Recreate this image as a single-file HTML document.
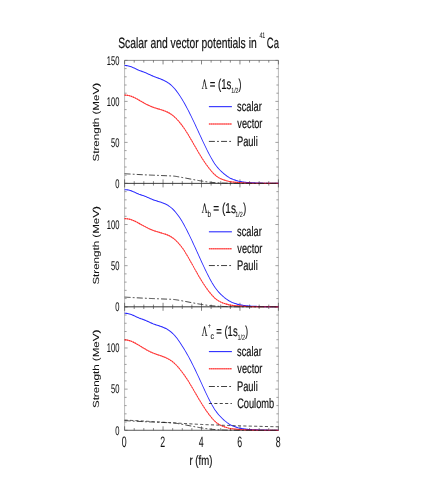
<!DOCTYPE html>
<html><head><meta charset="utf-8"><title>Scalar and vector potentials in 41Ca</title>
<style>html,body{margin:0;padding:0;background:#fff;}svg{display:block;}text{text-rendering:geometricPrecision;font-family:"Liberation Sans",sans-serif;fill:#111;stroke:#111;stroke-width:0.2;}.t{opacity:0.999;}.tk{stroke-width:0.06;}.sy{font-family:"Liberation Serif",serif;}</style>
</head><body>
<svg width="436" height="491" viewBox="0 0 436 491">
<rect x="0" y="0" width="436" height="491" fill="#ffffff"/>
<g stroke="#333" fill="none">
<path d="M124.60,60.40 V430.30 M278.40,60.40 V430.30" stroke-width="0.6" stroke="#8a8a8a"/>
<path d="M124.60,60.40 H278.40 M124.60,430.30 H278.40" stroke-width="0.6" stroke="#444"/>
<path d="M124.60,183.40 H278.40 M124.60,306.80 H278.40" stroke-width="0.75" stroke="#2a2a2a"/>
<path d="M124.60,60.40 v4.00 M134.21,60.40 v2.20 M143.82,60.40 v2.20 M153.44,60.40 v2.20 M163.05,60.40 v4.00 M172.66,60.40 v2.20 M182.27,60.40 v2.20 M191.89,60.40 v2.20 M201.50,60.40 v4.00 M211.11,60.40 v2.20 M220.72,60.40 v2.20 M230.34,60.40 v2.20 M239.95,60.40 v4.00 M249.56,60.40 v2.20 M259.17,60.40 v2.20 M268.79,60.40 v2.20 M278.40,60.40 v4.00 M124.60,183.40 v4.00 M124.60,183.40 v-4.00 M134.21,183.40 v2.20 M134.21,183.40 v-2.20 M143.82,183.40 v2.20 M143.82,183.40 v-2.20 M153.44,183.40 v2.20 M153.44,183.40 v-2.20 M163.05,183.40 v4.00 M163.05,183.40 v-4.00 M172.66,183.40 v2.20 M172.66,183.40 v-2.20 M182.27,183.40 v2.20 M182.27,183.40 v-2.20 M191.89,183.40 v2.20 M191.89,183.40 v-2.20 M201.50,183.40 v4.00 M201.50,183.40 v-4.00 M211.11,183.40 v2.20 M211.11,183.40 v-2.20 M220.72,183.40 v2.20 M220.72,183.40 v-2.20 M230.34,183.40 v2.20 M230.34,183.40 v-2.20 M239.95,183.40 v4.00 M239.95,183.40 v-4.00 M249.56,183.40 v2.20 M249.56,183.40 v-2.20 M259.17,183.40 v2.20 M259.17,183.40 v-2.20 M268.79,183.40 v2.20 M268.79,183.40 v-2.20 M278.40,183.40 v4.00 M278.40,183.40 v-4.00 M124.60,306.80 v4.00 M124.60,306.80 v-4.00 M134.21,306.80 v2.20 M134.21,306.80 v-2.20 M143.82,306.80 v2.20 M143.82,306.80 v-2.20 M153.44,306.80 v2.20 M153.44,306.80 v-2.20 M163.05,306.80 v4.00 M163.05,306.80 v-4.00 M172.66,306.80 v2.20 M172.66,306.80 v-2.20 M182.27,306.80 v2.20 M182.27,306.80 v-2.20 M191.89,306.80 v2.20 M191.89,306.80 v-2.20 M201.50,306.80 v4.00 M201.50,306.80 v-4.00 M211.11,306.80 v2.20 M211.11,306.80 v-2.20 M220.72,306.80 v2.20 M220.72,306.80 v-2.20 M230.34,306.80 v2.20 M230.34,306.80 v-2.20 M239.95,306.80 v4.00 M239.95,306.80 v-4.00 M249.56,306.80 v2.20 M249.56,306.80 v-2.20 M259.17,306.80 v2.20 M259.17,306.80 v-2.20 M268.79,306.80 v2.20 M268.79,306.80 v-2.20 M278.40,306.80 v4.00 M278.40,306.80 v-4.00 M124.60,430.30 v-4.00 M134.21,430.30 v-2.20 M143.82,430.30 v-2.20 M153.44,430.30 v-2.20 M163.05,430.30 v-4.00 M172.66,430.30 v-2.20 M182.27,430.30 v-2.20 M191.89,430.30 v-2.20 M201.50,430.30 v-4.00 M211.11,430.30 v-2.20 M220.72,430.30 v-2.20 M230.34,430.30 v-2.20 M239.95,430.30 v-4.00 M249.56,430.30 v-2.20 M259.17,430.30 v-2.20 M268.79,430.30 v-2.20 M278.40,430.30 v-4.00 " stroke-width="0.62" stroke="#3a3a3a"/>
<path d="M124.60,183.40 h3.00 M278.40,183.40 h-3.00 M124.60,175.20 h2.00 M278.40,175.20 h-2.00 M124.60,167.00 h2.00 M278.40,167.00 h-2.00 M124.60,158.80 h2.00 M278.40,158.80 h-2.00 M124.60,150.60 h2.00 M278.40,150.60 h-2.00 M124.60,142.40 h3.00 M278.40,142.40 h-3.00 M124.60,134.20 h2.00 M278.40,134.20 h-2.00 M124.60,126.00 h2.00 M278.40,126.00 h-2.00 M124.60,117.80 h2.00 M278.40,117.80 h-2.00 M124.60,109.60 h2.00 M278.40,109.60 h-2.00 M124.60,101.40 h3.00 M278.40,101.40 h-3.00 M124.60,93.20 h2.00 M278.40,93.20 h-2.00 M124.60,85.00 h2.00 M278.40,85.00 h-2.00 M124.60,76.80 h2.00 M278.40,76.80 h-2.00 M124.60,68.60 h2.00 M278.40,68.60 h-2.00 M124.60,60.40 h3.00 M278.40,60.40 h-3.00 M124.60,306.80 h3.00 M278.40,306.80 h-3.00 M124.60,298.57 h2.00 M278.40,298.57 h-2.00 M124.60,290.35 h2.00 M278.40,290.35 h-2.00 M124.60,282.12 h2.00 M278.40,282.12 h-2.00 M124.60,273.89 h2.00 M278.40,273.89 h-2.00 M124.60,265.67 h3.00 M278.40,265.67 h-3.00 M124.60,257.44 h2.00 M278.40,257.44 h-2.00 M124.60,249.21 h2.00 M278.40,249.21 h-2.00 M124.60,240.99 h2.00 M278.40,240.99 h-2.00 M124.60,232.76 h2.00 M278.40,232.76 h-2.00 M124.60,224.53 h3.00 M278.40,224.53 h-3.00 M124.60,216.31 h2.00 M278.40,216.31 h-2.00 M124.60,208.08 h2.00 M278.40,208.08 h-2.00 M124.60,199.85 h2.00 M278.40,199.85 h-2.00 M124.60,191.63 h2.00 M278.40,191.63 h-2.00 M124.60,183.40 h3.00 M278.40,183.40 h-3.00 M124.60,430.30 h3.00 M278.40,430.30 h-3.00 M124.60,422.07 h2.00 M278.40,422.07 h-2.00 M124.60,413.83 h2.00 M278.40,413.83 h-2.00 M124.60,405.60 h2.00 M278.40,405.60 h-2.00 M124.60,397.37 h2.00 M278.40,397.37 h-2.00 M124.60,389.13 h3.00 M278.40,389.13 h-3.00 M124.60,380.90 h2.00 M278.40,380.90 h-2.00 M124.60,372.67 h2.00 M278.40,372.67 h-2.00 M124.60,364.43 h2.00 M278.40,364.43 h-2.00 M124.60,356.20 h2.00 M278.40,356.20 h-2.00 M124.60,347.97 h3.00 M278.40,347.97 h-3.00 M124.60,339.73 h2.00 M278.40,339.73 h-2.00 M124.60,331.50 h2.00 M278.40,331.50 h-2.00 M124.60,323.27 h2.00 M278.40,323.27 h-2.00 M124.60,315.03 h2.00 M278.40,315.03 h-2.00 M124.60,306.80 h3.00 M278.40,306.80 h-3.00 " stroke-width="0.62" stroke="#666"/>
</g>
<g fill="none" stroke-linejoin="round" transform="translate(124.60,0) scale(0.720,1)">
<path d="M0.00,65.56 L1.34,65.57 L2.67,65.64 L4.01,65.77 L5.34,65.95 L6.68,66.19 L8.01,66.49 L9.35,66.84 L10.68,67.23 L12.02,67.65 L13.35,68.10 L14.69,68.56 L16.02,69.01 L17.36,69.47 L18.69,69.90 L20.03,70.31 L21.36,70.68 L22.70,71.03 L24.03,71.37 L25.37,71.71 L26.70,72.07 L28.04,72.45 L29.37,72.85 L30.71,73.27 L32.04,73.70 L33.38,74.14 L34.71,74.59 L36.05,75.03 L37.38,75.47 L38.72,75.89 L40.05,76.30 L41.39,76.68 L42.72,77.05 L44.06,77.41 L45.39,77.77 L46.73,78.12 L48.06,78.47 L49.40,78.84 L50.73,79.21 L52.07,79.61 L53.40,80.03 L54.74,80.47 L56.07,80.95 L57.41,81.47 L58.74,82.03 L60.08,82.64 L61.41,83.30 L62.75,84.02 L64.08,84.80 L65.42,85.65 L66.75,86.57 L68.09,87.57 L69.42,88.64 L70.76,89.78 L72.09,91.00 L73.43,92.28 L74.76,93.62 L76.10,95.03 L77.43,96.50 L78.77,98.02 L80.10,99.60 L81.44,101.22 L82.77,102.90 L84.11,104.62 L85.44,106.39 L86.78,108.20 L88.11,110.04 L89.45,111.93 L90.78,113.84 L92.12,115.78 L93.45,117.76 L94.79,119.75 L96.13,121.78 L97.46,123.82 L98.80,125.87 L100.13,127.95 L101.47,130.03 L102.80,132.12 L104.14,134.22 L105.47,136.31 L106.81,138.39 L108.14,140.46 L109.48,142.52 L110.81,144.55 L112.15,146.56 L113.48,148.53 L114.82,150.47 L116.15,152.37 L117.49,154.22 L118.82,156.03 L120.16,157.78 L121.49,159.46 L122.83,161.07 L124.16,162.60 L125.50,164.03 L126.83,165.37 L128.17,166.61 L129.50,167.77 L130.84,168.86 L132.17,169.89 L133.51,170.85 L134.84,171.76 L136.18,172.64 L137.51,173.48 L138.85,174.29 L140.18,175.04 L141.52,175.74 L142.85,176.42 L144.19,177.05 L145.52,177.63 L146.86,178.15 L148.19,178.62 L149.53,179.04 L150.86,179.43 L152.20,179.79 L153.53,180.12 L154.87,180.43 L156.20,180.72 L157.54,181.00 L158.87,181.23 L160.21,181.43 L161.54,181.60 L162.88,181.76 L164.21,181.92 L165.55,182.06 L166.88,182.19 L168.22,182.31 L169.55,182.42 L170.89,182.51 L172.22,182.59 L173.56,182.66 L174.89,182.72 L176.23,182.78 L177.56,182.83 L178.90,182.87 L180.23,182.91 L181.57,182.95 L182.90,182.99 L184.24,183.02 L185.57,183.05 L186.91,183.07 L188.24,183.10 L189.58,183.12 L190.91,183.15 L192.25,183.17 L193.59,183.19 L194.92,183.22 L196.26,183.24 L197.59,183.26 L198.93,183.28 L200.26,183.30 L201.60,183.32 L202.93,183.33 L204.27,183.35 L205.60,183.36 L206.94,183.37 L208.27,183.38 L209.61,183.39 L210.94,183.40 L212.28,183.40 L213.61,183.40" stroke="#2828ff" stroke-width="1.08"/>
<path d="M0.00,95.11 L1.34,95.13 L2.67,95.20 L4.01,95.32 L5.34,95.50 L6.68,95.73 L8.01,96.01 L9.35,96.33 L10.68,96.70 L12.02,97.11 L13.35,97.56 L14.69,98.03 L16.02,98.53 L17.36,99.05 L18.69,99.59 L20.03,100.13 L21.36,100.69 L22.70,101.25 L24.03,101.81 L25.37,102.36 L26.70,102.90 L28.04,103.43 L29.37,103.94 L30.71,104.43 L32.04,104.91 L33.38,105.37 L34.71,105.81 L36.05,106.23 L37.38,106.63 L38.72,107.01 L40.05,107.37 L41.39,107.70 L42.72,108.01 L44.06,108.31 L45.39,108.60 L46.73,108.88 L48.06,109.16 L49.40,109.45 L50.73,109.74 L52.07,110.04 L53.40,110.36 L54.74,110.70 L56.07,111.06 L57.41,111.45 L58.74,111.88 L60.08,112.34 L61.41,112.84 L62.75,113.39 L64.08,113.99 L65.42,114.65 L66.75,115.36 L68.09,116.14 L69.42,116.98 L70.76,117.88 L72.09,118.84 L73.43,119.86 L74.76,120.93 L76.10,122.06 L77.43,123.24 L78.77,124.47 L80.10,125.76 L81.44,127.09 L82.77,128.47 L84.11,129.90 L85.44,131.37 L86.78,132.88 L88.11,134.43 L89.45,136.02 L90.78,137.64 L92.12,139.29 L93.45,140.95 L94.79,142.62 L96.13,144.30 L97.46,145.98 L98.80,147.66 L100.13,149.32 L101.47,150.97 L102.80,152.59 L104.14,154.20 L105.47,155.77 L106.81,157.33 L108.14,158.85 L109.48,160.34 L110.81,161.79 L112.15,163.20 L113.48,164.58 L114.82,165.91 L116.15,167.20 L117.49,168.44 L118.82,169.64 L120.16,170.79 L121.49,171.89 L122.83,172.94 L124.16,173.92 L125.50,174.83 L126.83,175.66 L128.17,176.40 L129.50,177.07 L130.84,177.67 L132.17,178.20 L133.51,178.67 L134.84,179.09 L136.18,179.47 L137.51,179.82 L138.85,180.14 L140.18,180.45 L141.52,180.74 L142.85,181.02 L144.19,181.27 L145.52,181.50 L146.86,181.68 L148.19,181.82 L149.53,181.95 L150.86,182.06 L152.20,182.16 L153.53,182.25 L154.87,182.35 L156.20,182.43 L157.54,182.52 L158.87,182.59 L160.21,182.66 L161.54,182.72 L162.88,182.79 L164.21,182.85 L165.55,182.90 L166.88,182.96 L168.22,183.01 L169.55,183.05 L170.89,183.09 L172.22,183.13 L173.56,183.15 L174.89,183.18 L176.23,183.20 L177.56,183.22 L178.90,183.24 L180.23,183.26 L181.57,183.27 L182.90,183.29 L184.24,183.30 L185.57,183.31 L186.91,183.32 L188.24,183.32 L189.58,183.33 L190.91,183.34 L192.25,183.34 L193.59,183.35 L194.92,183.36 L196.26,183.36 L197.59,183.37 L198.93,183.37 L200.26,183.38 L201.60,183.38 L202.93,183.38 L204.27,183.39 L205.60,183.39 L206.94,183.39 L208.27,183.40 L209.61,183.40 L210.94,183.40 L212.28,183.40 L213.61,183.40" stroke="#ff0000" stroke-width="1.15" stroke-opacity="0.6"/>
<path d="M0.00,95.11 L1.34,95.13 L2.67,95.20 L4.01,95.32 L5.34,95.50 L6.68,95.73 L8.01,96.01 L9.35,96.33 L10.68,96.70 L12.02,97.11 L13.35,97.56 L14.69,98.03 L16.02,98.53 L17.36,99.05 L18.69,99.59 L20.03,100.13 L21.36,100.69 L22.70,101.25 L24.03,101.81 L25.37,102.36 L26.70,102.90 L28.04,103.43 L29.37,103.94 L30.71,104.43 L32.04,104.91 L33.38,105.37 L34.71,105.81 L36.05,106.23 L37.38,106.63 L38.72,107.01 L40.05,107.37 L41.39,107.70 L42.72,108.01 L44.06,108.31 L45.39,108.60 L46.73,108.88 L48.06,109.16 L49.40,109.45 L50.73,109.74 L52.07,110.04 L53.40,110.36 L54.74,110.70 L56.07,111.06 L57.41,111.45 L58.74,111.88 L60.08,112.34 L61.41,112.84 L62.75,113.39 L64.08,113.99 L65.42,114.65 L66.75,115.36 L68.09,116.14 L69.42,116.98 L70.76,117.88 L72.09,118.84 L73.43,119.86 L74.76,120.93 L76.10,122.06 L77.43,123.24 L78.77,124.47 L80.10,125.76 L81.44,127.09 L82.77,128.47 L84.11,129.90 L85.44,131.37 L86.78,132.88 L88.11,134.43 L89.45,136.02 L90.78,137.64 L92.12,139.29 L93.45,140.95 L94.79,142.62 L96.13,144.30 L97.46,145.98 L98.80,147.66 L100.13,149.32 L101.47,150.97 L102.80,152.59 L104.14,154.20 L105.47,155.77 L106.81,157.33 L108.14,158.85 L109.48,160.34 L110.81,161.79 L112.15,163.20 L113.48,164.58 L114.82,165.91 L116.15,167.20 L117.49,168.44 L118.82,169.64 L120.16,170.79 L121.49,171.89 L122.83,172.94 L124.16,173.92 L125.50,174.83 L126.83,175.66 L128.17,176.40 L129.50,177.07 L130.84,177.67 L132.17,178.20 L133.51,178.67 L134.84,179.09 L136.18,179.47 L137.51,179.82 L138.85,180.14 L140.18,180.45 L141.52,180.74 L142.85,181.02 L144.19,181.27 L145.52,181.50 L146.86,181.68 L148.19,181.82 L149.53,181.95 L150.86,182.06 L152.20,182.16 L153.53,182.25 L154.87,182.35 L156.20,182.43 L157.54,182.52 L158.87,182.59 L160.21,182.66 L161.54,182.72 L162.88,182.79 L164.21,182.85 L165.55,182.90 L166.88,182.96 L168.22,183.01 L169.55,183.05 L170.89,183.09 L172.22,183.13 L173.56,183.15 L174.89,183.18 L176.23,183.20 L177.56,183.22 L178.90,183.24 L180.23,183.26 L181.57,183.27 L182.90,183.29 L184.24,183.30 L185.57,183.31 L186.91,183.32 L188.24,183.32 L189.58,183.33 L190.91,183.34 L192.25,183.34 L193.59,183.35 L194.92,183.36 L196.26,183.36 L197.59,183.37 L198.93,183.37 L200.26,183.38 L201.60,183.38 L202.93,183.38 L204.27,183.39 L205.60,183.39 L206.94,183.39 L208.27,183.40 L209.61,183.40 L210.94,183.40 L212.28,183.40 L213.61,183.40" stroke="#ff0000" stroke-width="1.1" stroke-opacity="0.6" stroke-dasharray="1.8 1.1"/>
<path d="M0.00,173.72 L1.34,173.78 L2.67,173.84 L4.01,173.90 L5.34,173.96 L6.68,174.01 L8.01,174.07 L9.35,174.13 L10.68,174.18 L12.02,174.24 L13.35,174.29 L14.69,174.34 L16.02,174.40 L17.36,174.45 L18.69,174.50 L20.03,174.55 L21.36,174.60 L22.70,174.65 L24.03,174.70 L25.37,174.74 L26.70,174.79 L28.04,174.84 L29.37,174.88 L30.71,174.92 L32.04,174.97 L33.38,175.01 L34.71,175.05 L36.05,175.09 L37.38,175.13 L38.72,175.17 L40.05,175.21 L41.39,175.25 L42.72,175.29 L44.06,175.33 L45.39,175.37 L46.73,175.41 L48.06,175.45 L49.40,175.49 L50.73,175.53 L52.07,175.57 L53.40,175.61 L54.74,175.65 L56.07,175.68 L57.41,175.72 L58.74,175.75 L60.08,175.79 L61.41,175.82 L62.75,175.86 L64.08,175.91 L65.42,175.96 L66.75,176.02 L68.09,176.10 L69.42,176.20 L70.76,176.33 L72.09,176.48 L73.43,176.64 L74.76,176.80 L76.10,176.98 L77.43,177.16 L78.77,177.33 L80.10,177.50 L81.44,177.66 L82.77,177.84 L84.11,178.01 L85.44,178.20 L86.78,178.38 L88.11,178.57 L89.45,178.75 L90.78,178.94 L92.12,179.12 L93.45,179.30 L94.79,179.48 L96.13,179.66 L97.46,179.84 L98.80,180.02 L100.13,180.20 L101.47,180.37 L102.80,180.54 L104.14,180.71 L105.47,180.87 L106.81,181.02 L108.14,181.17 L109.48,181.32 L110.81,181.47 L112.15,181.61 L113.48,181.75 L114.82,181.89 L116.15,182.02 L117.49,182.13 L118.82,182.24 L120.16,182.33 L121.49,182.42 L122.83,182.50 L124.16,182.58 L125.50,182.66 L126.83,182.73 L128.17,182.79 L129.50,182.85 L130.84,182.90 L132.17,182.95 L133.51,182.99 L134.84,183.02 L136.18,183.06 L137.51,183.08 L138.85,183.11 L140.18,183.13 L141.52,183.16 L142.85,183.18 L144.19,183.20 L145.52,183.22 L146.86,183.24 L148.19,183.26 L149.53,183.28 L150.86,183.30 L152.20,183.32 L153.53,183.34 L154.87,183.36 L156.20,183.38 L157.54,183.39 L158.87,183.40 L160.21,183.40 L161.54,183.40 L162.88,183.40 L164.21,183.40 L165.55,183.40 L166.88,183.40 L168.22,183.40 L169.55,183.40 L170.89,183.40 L172.22,183.40 L173.56,183.40 L174.89,183.40 L176.23,183.40 L177.56,183.40 L178.90,183.40 L180.23,183.40 L181.57,183.40 L182.90,183.40 L184.24,183.40 L185.57,183.40 L186.91,183.40 L188.24,183.40 L189.58,183.40 L190.91,183.40 L192.25,183.40 L193.59,183.40 L194.92,183.40 L196.26,183.40 L197.59,183.40 L198.93,183.40 L200.26,183.40 L201.60,183.40 L202.93,183.40 L204.27,183.40 L205.60,183.40 L206.94,183.40 L208.27,183.40 L209.61,183.40 L210.94,183.40 L212.28,183.40 L213.61,183.40" stroke="#222" stroke-width="1.0" stroke-dasharray="8.3 3.05 2.5 3.05"/>
</g>
<g fill="none" stroke-linejoin="round" transform="translate(124.60,0) scale(0.720,1)">
<path d="M0.00,189.76 L1.34,189.75 L2.67,189.80 L4.01,189.91 L5.34,190.07 L6.68,190.29 L8.01,190.57 L9.35,190.89 L10.68,191.26 L12.02,191.67 L13.35,192.09 L14.69,192.52 L16.02,192.96 L17.36,193.39 L18.69,193.80 L20.03,194.19 L21.36,194.54 L22.70,194.87 L24.03,195.19 L25.37,195.52 L26.70,195.85 L28.04,196.21 L29.37,196.59 L30.71,196.99 L32.04,197.41 L33.38,197.83 L34.71,198.25 L36.05,198.68 L37.38,199.09 L38.72,199.50 L40.05,199.88 L41.39,200.21 L42.72,200.52 L44.06,200.82 L45.39,201.11 L46.73,201.41 L48.06,201.70 L49.40,202.01 L50.73,202.32 L52.07,202.66 L53.40,203.02 L54.74,203.41 L56.07,203.83 L57.41,204.30 L58.74,204.80 L60.08,205.36 L61.41,205.96 L62.75,206.63 L64.08,207.36 L65.42,208.16 L66.75,209.04 L68.09,209.99 L69.42,211.02 L70.76,212.12 L72.09,213.30 L73.43,214.54 L74.76,215.85 L76.10,217.23 L77.43,218.67 L78.77,220.16 L80.10,221.71 L81.44,223.42 L82.77,225.17 L84.11,226.96 L85.44,228.80 L86.78,230.67 L88.11,232.59 L89.45,234.53 L90.78,236.51 L92.12,238.52 L93.45,240.55 L94.79,242.60 L96.13,244.68 L97.46,246.77 L98.80,248.88 L100.13,251.00 L101.47,253.13 L102.80,255.26 L104.14,257.40 L105.47,259.53 L106.81,261.65 L108.14,263.72 L109.48,265.79 L110.81,267.83 L112.15,269.84 L113.48,271.82 L114.82,273.77 L116.15,275.67 L117.49,277.53 L118.82,279.34 L120.16,281.10 L121.49,282.79 L122.83,284.40 L124.16,285.93 L125.50,287.37 L126.83,288.71 L128.17,289.96 L129.50,291.12 L130.84,292.22 L132.17,293.24 L133.51,294.21 L134.84,295.12 L136.18,296.01 L137.51,296.85 L138.85,297.66 L140.18,298.41 L141.52,299.12 L142.85,299.80 L144.19,300.43 L145.52,301.02 L146.86,301.53 L148.19,302.00 L149.53,302.43 L150.86,302.82 L152.20,303.18 L153.53,303.51 L154.87,303.82 L156.20,304.12 L157.54,304.39 L158.87,304.63 L160.21,304.83 L161.54,305.00 L162.88,305.16 L164.21,305.31 L165.55,305.45 L166.88,305.58 L168.22,305.70 L169.55,305.81 L170.89,305.91 L172.22,305.99 L173.56,306.06 L174.89,306.12 L176.23,306.17 L177.56,306.22 L178.90,306.27 L180.23,306.31 L181.57,306.35 L182.90,306.38 L184.24,306.42 L185.57,306.44 L186.91,306.47 L188.24,306.50 L189.58,306.52 L190.91,306.54 L192.25,306.57 L193.59,306.59 L194.92,306.61 L196.26,306.64 L197.59,306.66 L198.93,306.68 L200.26,306.70 L201.60,306.72 L202.93,306.73 L204.27,306.75 L205.60,306.76 L206.94,306.77 L208.27,306.78 L209.61,306.79 L210.94,306.80 L212.28,306.80 L213.61,306.80" stroke="#2828ff" stroke-width="1.08"/>
<path d="M0.00,218.67 L1.34,218.66 L2.67,218.71 L4.01,218.81 L5.34,218.97 L6.68,219.17 L8.01,219.43 L9.35,219.73 L10.68,220.08 L12.02,220.47 L13.35,220.89 L14.69,221.35 L16.02,221.82 L17.36,222.32 L18.69,222.84 L20.03,223.37 L21.36,223.90 L22.70,224.44 L24.03,224.98 L25.37,225.52 L26.70,226.04 L28.04,226.57 L29.37,227.08 L30.71,227.58 L32.04,228.06 L33.38,228.52 L34.71,228.96 L36.05,229.38 L37.38,229.78 L38.72,230.16 L40.05,230.52 L41.39,230.85 L42.72,231.17 L44.06,231.47 L45.39,231.76 L46.73,232.04 L48.06,232.32 L49.40,232.61 L50.73,232.90 L52.07,233.20 L53.40,233.52 L54.74,233.79 L56.07,234.08 L57.41,234.40 L58.74,234.76 L60.08,235.15 L61.41,235.59 L62.75,236.07 L64.08,236.61 L65.42,237.20 L66.75,237.86 L68.09,238.58 L69.42,239.36 L70.76,240.21 L72.09,241.12 L73.43,242.09 L74.76,243.12 L76.10,244.21 L77.43,245.36 L78.77,246.56 L80.10,247.81 L81.44,249.23 L82.77,250.70 L84.11,252.21 L85.44,253.76 L86.78,255.35 L88.11,256.99 L89.45,258.65 L90.78,260.34 L92.12,262.06 L93.45,263.78 L94.79,265.52 L96.13,267.26 L97.46,269.00 L98.80,270.73 L100.13,272.44 L101.47,274.13 L102.80,275.80 L104.14,277.44 L105.47,279.06 L106.81,280.64 L108.14,282.17 L109.48,283.66 L110.81,285.12 L112.15,286.54 L113.48,287.92 L114.82,289.26 L116.15,290.55 L117.49,291.79 L118.82,292.99 L120.16,294.15 L121.49,295.26 L122.83,296.31 L124.16,297.29 L125.50,298.21 L126.83,299.03 L128.17,299.78 L129.50,300.45 L130.84,301.05 L132.17,301.58 L133.51,302.05 L134.84,302.47 L136.18,302.86 L137.51,303.21 L138.85,303.53 L140.18,303.84 L141.52,304.13 L142.85,304.41 L144.19,304.67 L145.52,304.89 L146.86,305.07 L148.19,305.22 L149.53,305.34 L150.86,305.45 L152.20,305.55 L153.53,305.65 L154.87,305.74 L156.20,305.83 L157.54,305.92 L158.87,305.99 L160.21,306.06 L161.54,306.12 L162.88,306.18 L164.21,306.24 L165.55,306.30 L166.88,306.35 L168.22,306.40 L169.55,306.45 L170.89,306.49 L172.22,306.53 L173.56,306.55 L174.89,306.58 L176.23,306.60 L177.56,306.62 L178.90,306.64 L180.23,306.66 L181.57,306.67 L182.90,306.69 L184.24,306.70 L185.57,306.71 L186.91,306.72 L188.24,306.72 L189.58,306.73 L190.91,306.74 L192.25,306.74 L193.59,306.75 L194.92,306.76 L196.26,306.76 L197.59,306.77 L198.93,306.77 L200.26,306.78 L201.60,306.78 L202.93,306.78 L204.27,306.79 L205.60,306.79 L206.94,306.79 L208.27,306.80 L209.61,306.80 L210.94,306.80 L212.28,306.80 L213.61,306.80" stroke="#ff0000" stroke-width="1.15" stroke-opacity="0.6"/>
<path d="M0.00,218.67 L1.34,218.66 L2.67,218.71 L4.01,218.81 L5.34,218.97 L6.68,219.17 L8.01,219.43 L9.35,219.73 L10.68,220.08 L12.02,220.47 L13.35,220.89 L14.69,221.35 L16.02,221.82 L17.36,222.32 L18.69,222.84 L20.03,223.37 L21.36,223.90 L22.70,224.44 L24.03,224.98 L25.37,225.52 L26.70,226.04 L28.04,226.57 L29.37,227.08 L30.71,227.58 L32.04,228.06 L33.38,228.52 L34.71,228.96 L36.05,229.38 L37.38,229.78 L38.72,230.16 L40.05,230.52 L41.39,230.85 L42.72,231.17 L44.06,231.47 L45.39,231.76 L46.73,232.04 L48.06,232.32 L49.40,232.61 L50.73,232.90 L52.07,233.20 L53.40,233.52 L54.74,233.79 L56.07,234.08 L57.41,234.40 L58.74,234.76 L60.08,235.15 L61.41,235.59 L62.75,236.07 L64.08,236.61 L65.42,237.20 L66.75,237.86 L68.09,238.58 L69.42,239.36 L70.76,240.21 L72.09,241.12 L73.43,242.09 L74.76,243.12 L76.10,244.21 L77.43,245.36 L78.77,246.56 L80.10,247.81 L81.44,249.23 L82.77,250.70 L84.11,252.21 L85.44,253.76 L86.78,255.35 L88.11,256.99 L89.45,258.65 L90.78,260.34 L92.12,262.06 L93.45,263.78 L94.79,265.52 L96.13,267.26 L97.46,269.00 L98.80,270.73 L100.13,272.44 L101.47,274.13 L102.80,275.80 L104.14,277.44 L105.47,279.06 L106.81,280.64 L108.14,282.17 L109.48,283.66 L110.81,285.12 L112.15,286.54 L113.48,287.92 L114.82,289.26 L116.15,290.55 L117.49,291.79 L118.82,292.99 L120.16,294.15 L121.49,295.26 L122.83,296.31 L124.16,297.29 L125.50,298.21 L126.83,299.03 L128.17,299.78 L129.50,300.45 L130.84,301.05 L132.17,301.58 L133.51,302.05 L134.84,302.47 L136.18,302.86 L137.51,303.21 L138.85,303.53 L140.18,303.84 L141.52,304.13 L142.85,304.41 L144.19,304.67 L145.52,304.89 L146.86,305.07 L148.19,305.22 L149.53,305.34 L150.86,305.45 L152.20,305.55 L153.53,305.65 L154.87,305.74 L156.20,305.83 L157.54,305.92 L158.87,305.99 L160.21,306.06 L161.54,306.12 L162.88,306.18 L164.21,306.24 L165.55,306.30 L166.88,306.35 L168.22,306.40 L169.55,306.45 L170.89,306.49 L172.22,306.53 L173.56,306.55 L174.89,306.58 L176.23,306.60 L177.56,306.62 L178.90,306.64 L180.23,306.66 L181.57,306.67 L182.90,306.69 L184.24,306.70 L185.57,306.71 L186.91,306.72 L188.24,306.72 L189.58,306.73 L190.91,306.74 L192.25,306.74 L193.59,306.75 L194.92,306.76 L196.26,306.76 L197.59,306.77 L198.93,306.77 L200.26,306.78 L201.60,306.78 L202.93,306.78 L204.27,306.79 L205.60,306.79 L206.94,306.79 L208.27,306.80 L209.61,306.80 L210.94,306.80 L212.28,306.80 L213.61,306.80" stroke="#ff0000" stroke-width="1.1" stroke-opacity="0.6" stroke-dasharray="1.8 1.1"/>
<path d="M0.00,297.09 L1.34,297.15 L2.67,297.21 L4.01,297.27 L5.34,297.33 L6.68,297.38 L8.01,297.44 L9.35,297.50 L10.68,297.55 L12.02,297.61 L13.35,297.66 L14.69,297.71 L16.02,297.77 L17.36,297.82 L18.69,297.87 L20.03,297.92 L21.36,297.97 L22.70,298.02 L24.03,298.07 L25.37,298.12 L26.70,298.16 L28.04,298.21 L29.37,298.25 L30.71,298.30 L32.04,298.34 L33.38,298.38 L34.71,298.42 L36.05,298.47 L37.38,298.51 L38.72,298.55 L40.05,298.59 L41.39,298.63 L42.72,298.67 L44.06,298.71 L45.39,298.74 L46.73,298.78 L48.06,298.82 L49.40,298.86 L50.73,298.90 L52.07,298.94 L53.40,298.98 L54.74,299.02 L56.07,299.06 L57.41,299.09 L58.74,299.13 L60.08,299.16 L61.41,299.20 L62.75,299.24 L64.08,299.28 L65.42,299.34 L66.75,299.40 L68.09,299.47 L69.42,299.58 L70.76,299.71 L72.09,299.85 L73.43,300.01 L74.76,300.18 L76.10,300.36 L77.43,300.53 L78.77,300.71 L80.10,300.88 L81.44,301.04 L82.77,301.22 L84.11,301.40 L85.44,301.58 L86.78,301.76 L88.11,301.95 L89.45,302.14 L90.78,302.32 L92.12,302.51 L93.45,302.69 L94.79,302.86 L96.13,303.04 L97.46,303.23 L98.80,303.41 L100.13,303.58 L101.47,303.76 L102.80,303.93 L104.14,304.10 L105.47,304.26 L106.81,304.41 L108.14,304.56 L109.48,304.71 L110.81,304.86 L112.15,305.01 L113.48,305.15 L114.82,305.28 L116.15,305.41 L117.49,305.53 L118.82,305.64 L120.16,305.73 L121.49,305.82 L122.83,305.90 L124.16,305.98 L125.50,306.05 L126.83,306.12 L128.17,306.19 L129.50,306.25 L130.84,306.30 L132.17,306.35 L133.51,306.39 L134.84,306.42 L136.18,306.45 L137.51,306.48 L138.85,306.51 L140.18,306.53 L141.52,306.55 L142.85,306.58 L144.19,306.60 L145.52,306.62 L146.86,306.64 L148.19,306.66 L149.53,306.68 L150.86,306.70 L152.20,306.72 L153.53,306.74 L154.87,306.76 L156.20,306.78 L157.54,306.79 L158.87,306.80 L160.21,306.80 L161.54,306.80 L162.88,306.80 L164.21,306.80 L165.55,306.80 L166.88,306.80 L168.22,306.80 L169.55,306.80 L170.89,306.80 L172.22,306.80 L173.56,306.80 L174.89,306.80 L176.23,306.80 L177.56,306.80 L178.90,306.80 L180.23,306.80 L181.57,306.80 L182.90,306.80 L184.24,306.80 L185.57,306.80 L186.91,306.80 L188.24,306.80 L189.58,306.80 L190.91,306.80 L192.25,306.80 L193.59,306.80 L194.92,306.80 L196.26,306.80 L197.59,306.80 L198.93,306.80 L200.26,306.80 L201.60,306.80 L202.93,306.80 L204.27,306.80 L205.60,306.80 L206.94,306.80 L208.27,306.80 L209.61,306.80 L210.94,306.80 L212.28,306.80 L213.61,306.80" stroke="#222" stroke-width="1.0" stroke-dasharray="8.3 3.05 2.5 3.05"/>
</g>
<g fill="none" stroke-linejoin="round" transform="translate(124.60,0) scale(0.720,1)">
<path d="M0.00,313.28 L1.34,313.30 L2.67,313.37 L4.01,313.49 L5.34,313.67 L6.68,313.91 L8.01,314.21 L9.35,314.55 L10.68,314.94 L12.02,315.36 L13.35,315.80 L14.69,316.26 L16.02,316.71 L17.36,317.16 L18.69,317.59 L20.03,318.00 L21.36,318.37 L22.70,318.72 L24.03,319.05 L25.37,319.39 L26.70,319.75 L28.04,320.12 L29.37,320.52 L30.71,320.94 L32.04,321.37 L33.38,321.81 L34.71,322.25 L36.05,322.69 L37.38,323.12 L38.72,323.54 L40.05,323.94 L41.39,324.29 L42.72,324.62 L44.06,324.94 L45.39,325.25 L46.73,325.56 L48.06,325.87 L49.40,326.20 L50.73,326.53 L52.07,326.89 L53.40,327.27 L54.74,327.67 L56.07,328.12 L57.41,328.59 L58.74,329.11 L60.08,329.68 L61.41,330.31 L62.75,330.99 L64.08,331.73 L65.42,332.55 L66.75,333.43 L68.09,334.39 L69.42,335.43 L70.76,336.54 L72.09,337.72 L73.43,338.97 L74.76,340.29 L76.10,341.67 L77.43,343.11 L78.77,344.60 L80.10,346.16 L81.44,347.63 L82.77,349.15 L84.11,350.73 L85.44,352.36 L86.78,354.04 L88.11,355.76 L89.45,357.53 L90.78,359.34 L92.12,361.19 L93.45,363.07 L94.79,364.99 L96.13,366.94 L97.46,368.92 L98.80,370.92 L100.13,372.95 L101.47,375.00 L102.80,377.06 L104.14,379.14 L105.47,381.22 L106.81,383.30 L108.14,385.42 L109.48,387.53 L110.81,389.62 L112.15,391.68 L113.48,393.72 L114.82,395.72 L116.15,397.68 L117.49,399.60 L118.82,401.47 L120.16,403.29 L121.49,405.04 L122.83,406.72 L124.16,408.31 L125.50,409.80 L126.83,411.20 L128.17,412.50 L129.50,413.72 L130.84,414.86 L132.17,415.93 L133.51,416.94 L134.84,417.91 L136.18,418.85 L137.51,419.75 L138.85,420.60 L140.18,421.40 L141.52,422.15 L142.85,422.87 L144.19,423.55 L145.52,424.16 L146.86,424.71 L148.19,425.21 L149.53,425.66 L150.86,426.08 L152.20,426.46 L153.53,426.81 L154.87,427.14 L156.20,427.45 L157.54,427.74 L158.87,427.99 L160.21,428.21 L161.54,428.39 L162.88,428.56 L164.21,428.72 L165.55,428.87 L166.88,429.01 L168.22,429.14 L169.55,429.25 L170.89,429.35 L172.22,429.44 L173.56,429.51 L174.89,429.58 L176.23,429.64 L177.56,429.69 L178.90,429.74 L180.23,429.78 L181.57,429.82 L182.90,429.86 L184.24,429.89 L185.57,429.92 L186.91,429.95 L188.24,429.98 L189.58,430.00 L190.91,430.03 L192.25,430.05 L193.59,430.08 L194.92,430.10 L196.26,430.13 L197.59,430.15 L198.93,430.17 L200.26,430.19 L201.60,430.21 L202.93,430.23 L204.27,430.24 L205.60,430.26 L206.94,430.27 L208.27,430.28 L209.61,430.29 L210.94,430.29 L212.28,430.30 L213.61,430.30" stroke="#2828ff" stroke-width="1.08"/>
<path d="M0.00,339.88 L1.34,339.92 L2.67,340.02 L4.01,340.16 L5.34,340.37 L6.68,340.62 L8.01,340.93 L9.35,341.28 L10.68,341.68 L12.02,342.12 L13.35,342.60 L14.69,343.10 L16.02,343.64 L17.36,344.19 L18.69,344.76 L20.03,345.34 L21.36,345.93 L22.70,346.52 L24.03,347.11 L25.37,347.69 L26.70,348.26 L28.04,348.84 L29.37,349.40 L30.71,349.94 L32.04,350.47 L33.38,350.97 L34.71,351.46 L36.05,351.93 L37.38,352.37 L38.72,352.79 L40.05,353.19 L41.39,353.57 L42.72,353.92 L44.06,354.27 L45.39,354.60 L46.73,354.92 L48.06,355.24 L49.40,355.56 L50.73,355.90 L52.07,356.24 L53.40,356.60 L54.74,356.96 L56.07,357.34 L57.41,357.75 L58.74,358.20 L60.08,358.68 L61.41,359.21 L62.75,359.78 L64.08,360.40 L65.42,361.08 L66.75,361.82 L68.09,362.62 L69.42,363.48 L70.76,364.40 L72.09,365.38 L73.43,366.42 L74.76,367.51 L76.10,368.66 L77.43,369.86 L78.77,371.12 L80.10,372.42 L81.44,373.68 L82.77,374.98 L84.11,376.34 L85.44,377.74 L86.78,379.19 L88.11,380.69 L89.45,382.23 L90.78,383.81 L92.12,385.41 L93.45,387.04 L94.79,388.68 L96.13,390.34 L97.46,392.00 L98.80,393.66 L100.13,395.31 L101.47,396.95 L102.80,398.58 L104.14,400.19 L105.47,401.77 L106.81,403.33 L108.14,404.88 L109.48,406.40 L110.81,407.88 L112.15,409.33 L113.48,410.74 L114.82,412.11 L116.15,413.43 L117.49,414.71 L118.82,415.94 L120.16,417.13 L121.49,418.27 L122.83,419.36 L124.16,420.38 L125.50,421.32 L126.83,422.18 L128.17,422.95 L129.50,423.64 L130.84,424.27 L132.17,424.82 L133.51,425.31 L134.84,425.75 L136.18,426.16 L137.51,426.52 L138.85,426.87 L140.18,427.19 L141.52,427.49 L142.85,427.79 L144.19,428.06 L145.52,428.29 L146.86,428.48 L148.19,428.64 L149.53,428.77 L150.86,428.88 L152.20,428.99 L153.53,429.09 L154.87,429.19 L156.20,429.28 L157.54,429.37 L158.87,429.45 L160.21,429.52 L161.54,429.59 L162.88,429.65 L164.21,429.72 L165.55,429.78 L166.88,429.83 L168.22,429.88 L169.55,429.93 L170.89,429.97 L172.22,430.01 L173.56,430.04 L174.89,430.07 L176.23,430.09 L177.56,430.11 L178.90,430.13 L180.23,430.15 L181.57,430.17 L182.90,430.18 L184.24,430.19 L185.57,430.21 L186.91,430.21 L188.24,430.22 L189.58,430.23 L190.91,430.23 L192.25,430.24 L193.59,430.25 L194.92,430.25 L196.26,430.26 L197.59,430.27 L198.93,430.27 L200.26,430.28 L201.60,430.28 L202.93,430.28 L204.27,430.29 L205.60,430.29 L206.94,430.29 L208.27,430.30 L209.61,430.30 L210.94,430.30 L212.28,430.30 L213.61,430.30" stroke="#ff0000" stroke-width="1.15" stroke-opacity="0.6"/>
<path d="M0.00,339.88 L1.34,339.92 L2.67,340.02 L4.01,340.16 L5.34,340.37 L6.68,340.62 L8.01,340.93 L9.35,341.28 L10.68,341.68 L12.02,342.12 L13.35,342.60 L14.69,343.10 L16.02,343.64 L17.36,344.19 L18.69,344.76 L20.03,345.34 L21.36,345.93 L22.70,346.52 L24.03,347.11 L25.37,347.69 L26.70,348.26 L28.04,348.84 L29.37,349.40 L30.71,349.94 L32.04,350.47 L33.38,350.97 L34.71,351.46 L36.05,351.93 L37.38,352.37 L38.72,352.79 L40.05,353.19 L41.39,353.57 L42.72,353.92 L44.06,354.27 L45.39,354.60 L46.73,354.92 L48.06,355.24 L49.40,355.56 L50.73,355.90 L52.07,356.24 L53.40,356.60 L54.74,356.96 L56.07,357.34 L57.41,357.75 L58.74,358.20 L60.08,358.68 L61.41,359.21 L62.75,359.78 L64.08,360.40 L65.42,361.08 L66.75,361.82 L68.09,362.62 L69.42,363.48 L70.76,364.40 L72.09,365.38 L73.43,366.42 L74.76,367.51 L76.10,368.66 L77.43,369.86 L78.77,371.12 L80.10,372.42 L81.44,373.68 L82.77,374.98 L84.11,376.34 L85.44,377.74 L86.78,379.19 L88.11,380.69 L89.45,382.23 L90.78,383.81 L92.12,385.41 L93.45,387.04 L94.79,388.68 L96.13,390.34 L97.46,392.00 L98.80,393.66 L100.13,395.31 L101.47,396.95 L102.80,398.58 L104.14,400.19 L105.47,401.77 L106.81,403.33 L108.14,404.88 L109.48,406.40 L110.81,407.88 L112.15,409.33 L113.48,410.74 L114.82,412.11 L116.15,413.43 L117.49,414.71 L118.82,415.94 L120.16,417.13 L121.49,418.27 L122.83,419.36 L124.16,420.38 L125.50,421.32 L126.83,422.18 L128.17,422.95 L129.50,423.64 L130.84,424.27 L132.17,424.82 L133.51,425.31 L134.84,425.75 L136.18,426.16 L137.51,426.52 L138.85,426.87 L140.18,427.19 L141.52,427.49 L142.85,427.79 L144.19,428.06 L145.52,428.29 L146.86,428.48 L148.19,428.64 L149.53,428.77 L150.86,428.88 L152.20,428.99 L153.53,429.09 L154.87,429.19 L156.20,429.28 L157.54,429.37 L158.87,429.45 L160.21,429.52 L161.54,429.59 L162.88,429.65 L164.21,429.72 L165.55,429.78 L166.88,429.83 L168.22,429.88 L169.55,429.93 L170.89,429.97 L172.22,430.01 L173.56,430.04 L174.89,430.07 L176.23,430.09 L177.56,430.11 L178.90,430.13 L180.23,430.15 L181.57,430.17 L182.90,430.18 L184.24,430.19 L185.57,430.21 L186.91,430.21 L188.24,430.22 L189.58,430.23 L190.91,430.23 L192.25,430.24 L193.59,430.25 L194.92,430.25 L196.26,430.26 L197.59,430.27 L198.93,430.27 L200.26,430.28 L201.60,430.28 L202.93,430.28 L204.27,430.29 L205.60,430.29 L206.94,430.29 L208.27,430.30 L209.61,430.30 L210.94,430.30 L212.28,430.30 L213.61,430.30" stroke="#ff0000" stroke-width="1.1" stroke-opacity="0.6" stroke-dasharray="1.8 1.1"/>
<path d="M0.00,420.58 L1.34,420.64 L2.67,420.70 L4.01,420.76 L5.34,420.82 L6.68,420.88 L8.01,420.93 L9.35,420.99 L10.68,421.04 L12.02,421.10 L13.35,421.15 L14.69,421.21 L16.02,421.26 L17.36,421.31 L18.69,421.36 L20.03,421.41 L21.36,421.46 L22.70,421.51 L24.03,421.56 L25.37,421.61 L26.70,421.66 L28.04,421.70 L29.37,421.75 L30.71,421.79 L32.04,421.83 L33.38,421.88 L34.71,421.92 L36.05,421.96 L37.38,422.00 L38.72,422.04 L40.05,422.08 L41.39,422.12 L42.72,422.16 L44.06,422.20 L45.39,422.24 L46.73,422.28 L48.06,422.32 L49.40,422.36 L50.73,422.40 L52.07,422.44 L53.40,422.48 L54.74,422.52 L56.07,422.55 L57.41,422.59 L58.74,422.62 L60.08,422.66 L61.41,422.69 L62.75,422.73 L64.08,422.78 L65.42,422.83 L66.75,422.89 L68.09,422.97 L69.42,423.07 L70.76,423.20 L72.09,423.35 L73.43,423.51 L74.76,423.68 L76.10,423.85 L77.43,424.03 L78.77,424.20 L80.10,424.37 L81.44,424.54 L82.77,424.71 L84.11,424.89 L85.44,425.07 L86.78,425.26 L88.11,425.45 L89.45,425.63 L90.78,425.82 L92.12,426.00 L93.45,426.18 L94.79,426.36 L96.13,426.54 L97.46,426.72 L98.80,426.90 L100.13,427.08 L101.47,427.26 L102.80,427.43 L104.14,427.60 L105.47,427.76 L106.81,427.91 L108.14,428.06 L109.48,428.21 L110.81,428.36 L112.15,428.51 L113.48,428.65 L114.82,428.78 L116.15,428.91 L117.49,429.03 L118.82,429.14 L120.16,429.23 L121.49,429.32 L122.83,429.40 L124.16,429.48 L125.50,429.55 L126.83,429.62 L128.17,429.69 L129.50,429.75 L130.84,429.80 L132.17,429.85 L133.51,429.89 L134.84,429.92 L136.18,429.95 L137.51,429.98 L138.85,430.01 L140.18,430.03 L141.52,430.05 L142.85,430.08 L144.19,430.10 L145.52,430.12 L146.86,430.14 L148.19,430.16 L149.53,430.18 L150.86,430.20 L152.20,430.22 L153.53,430.24 L154.87,430.26 L156.20,430.28 L157.54,430.29 L158.87,430.30 L160.21,430.30 L161.54,430.30 L162.88,430.30 L164.21,430.30 L165.55,430.30 L166.88,430.30 L168.22,430.30 L169.55,430.30 L170.89,430.30 L172.22,430.30 L173.56,430.30 L174.89,430.30 L176.23,430.30 L177.56,430.30 L178.90,430.30 L180.23,430.30 L181.57,430.30 L182.90,430.30 L184.24,430.30 L185.57,430.30 L186.91,430.30 L188.24,430.30 L189.58,430.30 L190.91,430.30 L192.25,430.30 L193.59,430.30 L194.92,430.30 L196.26,430.30 L197.59,430.30 L198.93,430.30 L200.26,430.30 L201.60,430.30 L202.93,430.30 L204.27,430.30 L205.60,430.30 L206.94,430.30 L208.27,430.30 L209.61,430.30 L210.94,430.30 L212.28,430.30 L213.61,430.30" stroke="#222" stroke-width="1.0" stroke-dasharray="8.3 3.05 2.5 3.05"/>
<path d="M0.00,420.09 L1.34,420.14 L2.67,420.18 L4.01,420.23 L5.34,420.28 L6.68,420.32 L8.01,420.37 L9.35,420.42 L10.68,420.47 L12.02,420.52 L13.35,420.56 L14.69,420.61 L16.02,420.66 L17.36,420.72 L18.69,420.77 L20.03,420.82 L21.36,420.87 L22.70,420.92 L24.03,420.97 L25.37,421.03 L26.70,421.08 L28.04,421.13 L29.37,421.19 L30.71,421.24 L32.04,421.30 L33.38,421.35 L34.71,421.41 L36.05,421.47 L37.38,421.53 L38.72,421.59 L40.05,421.64 L41.39,421.70 L42.72,421.76 L44.06,421.82 L45.39,421.88 L46.73,421.94 L48.06,422.00 L49.40,422.06 L50.73,422.12 L52.07,422.17 L53.40,422.23 L54.74,422.29 L56.07,422.35 L57.41,422.41 L58.74,422.46 L60.08,422.52 L61.41,422.58 L62.75,422.64 L64.08,422.70 L65.42,422.75 L66.75,422.81 L68.09,422.87 L69.42,422.93 L70.76,422.99 L72.09,423.04 L73.43,423.10 L74.76,423.16 L76.10,423.22 L77.43,423.27 L78.77,423.33 L80.10,423.38 L81.44,423.44 L82.77,423.50 L84.11,423.55 L85.44,423.61 L86.78,423.67 L88.11,423.72 L89.45,423.78 L90.78,423.84 L92.12,423.89 L93.45,423.95 L94.79,424.00 L96.13,424.06 L97.46,424.11 L98.80,424.16 L100.13,424.22 L101.47,424.27 L102.80,424.32 L104.14,424.36 L105.47,424.41 L106.81,424.45 L108.14,424.50 L109.48,424.54 L110.81,424.58 L112.15,424.62 L113.48,424.66 L114.82,424.70 L116.15,424.74 L117.49,424.77 L118.82,424.81 L120.16,424.85 L121.49,424.88 L122.83,424.92 L124.16,424.95 L125.50,424.99 L126.83,425.02 L128.17,425.06 L129.50,425.09 L130.84,425.13 L132.17,425.16 L133.51,425.20 L134.84,425.23 L136.18,425.27 L137.51,425.30 L138.85,425.34 L140.18,425.37 L141.52,425.40 L142.85,425.44 L144.19,425.47 L145.52,425.51 L146.86,425.54 L148.19,425.57 L149.53,425.61 L150.86,425.64 L152.20,425.67 L153.53,425.70 L154.87,425.74 L156.20,425.77 L157.54,425.80 L158.87,425.83 L160.21,425.85 L161.54,425.88 L162.88,425.91 L164.21,425.94 L165.55,425.96 L166.88,425.99 L168.22,426.02 L169.55,426.04 L170.89,426.07 L172.22,426.09 L173.56,426.12 L174.89,426.14 L176.23,426.16 L177.56,426.19 L178.90,426.21 L180.23,426.23 L181.57,426.26 L182.90,426.28 L184.24,426.30 L185.57,426.33 L186.91,426.35 L188.24,426.37 L189.58,426.39 L190.91,426.41 L192.25,426.44 L193.59,426.46 L194.92,426.48 L196.26,426.50 L197.59,426.52 L198.93,426.54 L200.26,426.56 L201.60,426.58 L202.93,426.60 L204.27,426.62 L205.60,426.64 L206.94,426.66 L208.27,426.68 L209.61,426.70 L210.94,426.72 L212.28,426.74 L213.61,426.76" stroke="#1a1a1a" stroke-width="0.95" stroke-dasharray="4.3 3.2"/>
</g>
<path d="M124.60,183.40 H278.40 M124.60,306.80 H278.40 M124.60,430.30 H278.40" fill="none" stroke-width="0.7" stroke="#222" stroke-opacity="0.5"/>
<path transform="translate(124.60,0) scale(0.720,1)" d="M117.08,106.65 H149.03" fill="none" stroke="#2828ff" stroke-width="1.08"/>
<path transform="translate(124.60,0) scale(0.720,1)" d="M117.08,124.00 H149.03" fill="none" stroke="#ff0000" stroke-width="1.15" stroke-opacity="0.6"/>
<path transform="translate(124.60,0) scale(0.720,1)" d="M117.08,124.00 H149.03" fill="none" stroke="#ff0000" stroke-width="1.1" stroke-opacity="0.6" stroke-dasharray="1.8 1.1"/>
<path transform="translate(124.60,0) scale(0.720,1)" d="M117.08,141.42 H149.03" fill="none" stroke="#222" stroke-width="1.0" stroke-dasharray="8.3 3.05 2.5 3.05"/>
<path transform="translate(124.60,0) scale(0.720,1)" d="M117.08,231.80 H149.03" fill="none" stroke="#2828ff" stroke-width="1.08"/>
<path transform="translate(124.60,0) scale(0.720,1)" d="M117.08,248.80 H149.03" fill="none" stroke="#ff0000" stroke-width="1.15" stroke-opacity="0.6"/>
<path transform="translate(124.60,0) scale(0.720,1)" d="M117.08,248.80 H149.03" fill="none" stroke="#ff0000" stroke-width="1.1" stroke-opacity="0.6" stroke-dasharray="1.8 1.1"/>
<path transform="translate(124.60,0) scale(0.720,1)" d="M117.08,265.55 H149.03" fill="none" stroke="#222" stroke-width="1.0" stroke-dasharray="8.3 3.05 2.5 3.05"/>
<path transform="translate(124.60,0) scale(0.720,1)" d="M117.08,351.60 H149.03" fill="none" stroke="#2828ff" stroke-width="1.08"/>
<path transform="translate(124.60,0) scale(0.720,1)" d="M117.08,368.80 H149.03" fill="none" stroke="#ff0000" stroke-width="1.15" stroke-opacity="0.6"/>
<path transform="translate(124.60,0) scale(0.720,1)" d="M117.08,368.80 H149.03" fill="none" stroke="#ff0000" stroke-width="1.1" stroke-opacity="0.6" stroke-dasharray="1.8 1.1"/>
<path transform="translate(124.60,0) scale(0.720,1)" d="M117.08,386.50 H149.03" fill="none" stroke="#222" stroke-width="1.0" stroke-dasharray="8.3 3.05 2.5 3.05"/>
<path transform="translate(124.60,0) scale(0.720,1)" d="M117.08,403.50 H149.03" fill="none" stroke="#1a1a1a" stroke-width="0.95" stroke-dasharray="4.3 3.2"/>
<g class="t">
<text transform="translate(118.23,47.65) scale(0.6920,1)" font-size="14.95">Scalar and vector potentials in</text>
<text class="tk" transform="translate(259.39,38.30) scale(0.6491,1)" font-size="8.10">41</text>
<text transform="translate(266.83,47.65) scale(0.6351,1)" font-size="14.95">Ca</text>
<text class="tk" transform="translate(115.17,187.75) scale(0.6000,1)" font-size="12.60">0</text>
<text class="tk" transform="translate(110.96,146.75) scale(0.6000,1)" font-size="12.60">50</text>
<text class="tk" transform="translate(106.76,105.75) scale(0.6000,1)" font-size="12.60">100</text>
<text class="tk" transform="translate(106.76,64.75) scale(0.6000,1)" font-size="12.60">150</text>
<text class="tk" transform="translate(115.17,311.15) scale(0.6000,1)" font-size="12.60">0</text>
<text class="tk" transform="translate(110.96,270.02) scale(0.6000,1)" font-size="12.60">50</text>
<text class="tk" transform="translate(106.76,228.88) scale(0.6000,1)" font-size="12.60">100</text>
<text class="tk" transform="translate(115.17,434.65) scale(0.6000,1)" font-size="12.60">0</text>
<text class="tk" transform="translate(110.96,393.48) scale(0.6000,1)" font-size="12.60">50</text>
<text class="tk" transform="translate(106.76,352.32) scale(0.6000,1)" font-size="12.60">100</text>
<text class="tk" transform="translate(121.86,446.75) scale(0.5850,1)" font-size="15.00">0</text>
<text class="tk" transform="translate(160.29,446.75) scale(0.5850,1)" font-size="15.00">2</text>
<text class="tk" transform="translate(198.79,446.75) scale(0.5850,1)" font-size="15.00">4</text>
<text class="tk" transform="translate(237.17,446.75) scale(0.5850,1)" font-size="15.00">6</text>
<text class="tk" transform="translate(275.66,446.75) scale(0.5850,1)" font-size="15.00">8</text>
<text transform="translate(189.48,465.20) scale(0.7046,1)" font-size="13.60">r (fm)</text>
<text class="sy" transform="translate(201.76,89.00) scale(0.5417,1)" font-size="14.30">Λ</text>
<text transform="translate(209.67,89.00) scale(0.6732,1)" font-size="14.30">= (1s</text>
<text class="tk" transform="translate(231.20,93.20) scale(0.7040,1)" font-size="7.50">1/2</text>
<text transform="translate(238.46,89.00) scale(0.6216,1)" font-size="14.30">)</text>
<text class="sy" transform="translate(201.76,213.20) scale(0.5614,1)" font-size="14.30">Λ</text>
<text class="tk" transform="translate(207.62,217.00) scale(0.7082,1)" font-size="9.00">b</text>
<text transform="translate(213.35,213.20) scale(0.7022,1)" font-size="14.30">= (1s</text>
<text class="tk" transform="translate(235.29,217.40) scale(0.7250,1)" font-size="7.50">1/2</text>
<text transform="translate(243.36,213.20) scale(0.6216,1)" font-size="14.30">)</text>
<text class="sy" transform="translate(201.66,335.70) scale(0.5516,1)" font-size="14.30">Λ</text>
<text class="tk" transform="translate(207.76,328.30) scale(0.7580,1)" font-size="7.00">+</text>
<text class="tk" transform="translate(210.41,339.30) scale(0.8098,1)" font-size="8.80">c</text>
<text transform="translate(216.27,335.70) scale(0.6636,1)" font-size="14.30">= (1s</text>
<text class="tk" transform="translate(237.49,339.90) scale(0.7355,1)" font-size="7.50">1/2</text>
<text transform="translate(245.26,335.70) scale(0.5957,1)" font-size="14.30">)</text>
<text transform="translate(237.07,110.95) scale(0.6746,1)" font-size="13.70">scalar</text>
<text transform="translate(237.30,128.30) scale(0.6733,1)" font-size="13.70">vector</text>
<text transform="translate(236.95,145.72) scale(0.6820,1)" font-size="13.70">Pauli</text>
<text transform="translate(237.07,236.10) scale(0.6746,1)" font-size="13.70">scalar</text>
<text transform="translate(237.30,253.10) scale(0.6733,1)" font-size="13.70">vector</text>
<text transform="translate(236.95,269.85) scale(0.6820,1)" font-size="13.70">Pauli</text>
<text transform="translate(237.07,355.90) scale(0.6746,1)" font-size="13.70">scalar</text>
<text transform="translate(237.30,373.10) scale(0.6733,1)" font-size="13.70">vector</text>
<text transform="translate(236.95,390.80) scale(0.6820,1)" font-size="13.70">Pauli</text>
<text transform="translate(237.14,407.80) scale(0.6757,1)" font-size="13.70">Coulomb</text>
<text transform="translate(98.7,122.20) rotate(-90) scale(1.315,1)" font-size="8.8" class="tk" text-anchor="middle">Strength (MeV)</text>
<text transform="translate(98.7,245.40) rotate(-90) scale(1.315,1)" font-size="8.8" class="tk" text-anchor="middle">Strength (MeV)</text>
<text transform="translate(98.7,368.85) rotate(-90) scale(1.315,1)" font-size="8.8" class="tk" text-anchor="middle">Strength (MeV)</text>
</g>
</svg>
</body></html>
